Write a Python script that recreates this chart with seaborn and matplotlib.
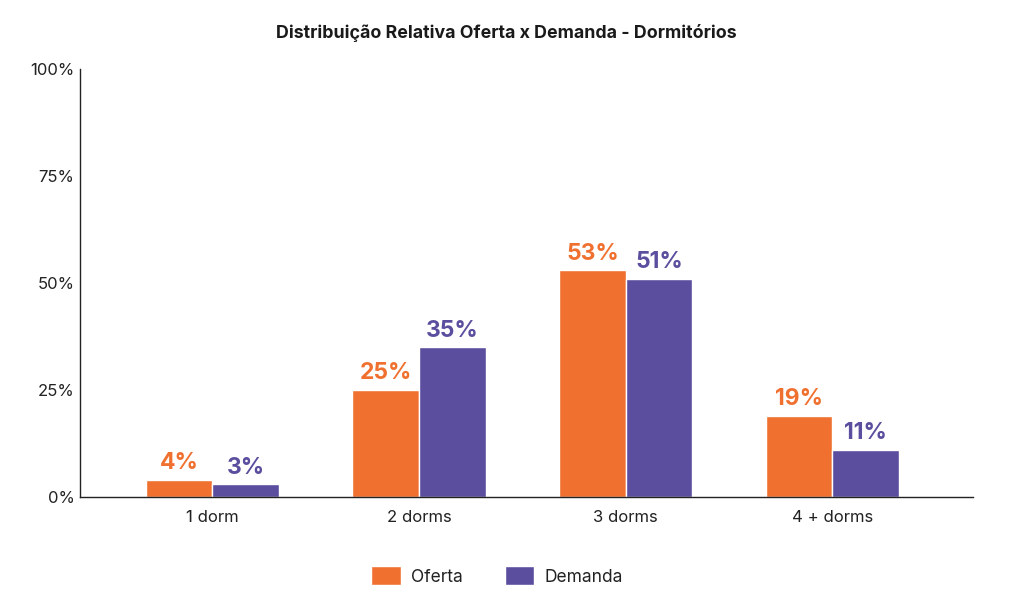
import matplotlib
matplotlib.use("Agg")
import matplotlib.pyplot as plt
import seaborn as sns
import pandas as pd

categories = ["1 dorm", "2 dorms", "3 dorms", "4 + dorms"]
oferta = [4, 25, 53, 19]
demanda = [3, 35, 51, 11]
series_names = ["Oferta", "Demanda"]
colors = ["#F07030", "#5B4E9E"]
yticks = [0, 25, 50, 75, 100]
ytick_labels = ["0%", "25%", "50%", "75%", "100%"]
title = "Distribuição Relativa Oferta x Demanda - Dormitórios"

df = pd.DataFrame({
    "cat": categories * 2,
    "serie": [series_names[0]] * 4 + [series_names[1]] * 4,
    "val": oferta + demanda,
})

sns.set_theme(style="white")
plt.rcParams["font.family"] = ["Inter", "DejaVu Sans"]

fig = plt.figure(figsize=(10.26, 6.08), dpi=100)
ax = fig.add_axes([80 / 1026, 1 - 497 / 608, (973 - 80) / 1026, (497 - 69) / 608])

sns.barplot(data=df, x="cat", y="val", hue="serie", palette=colors, saturation=1,
            width=0.645, edgecolor="white", linewidth=1, ax=ax, legend=True)

for cont, col in zip(ax.containers, colors):
    ax.bar_label(cont, labels=[f"{v:.0f}%" for v in cont.datavalues], padding=4,
                 color=col, fontsize=16.5, fontweight="bold")

ax.set_ylim(0, 100)
ax.set_xlim(-0.64, 3.68)
ax.set_yticks(yticks)
ax.set_yticklabels(ytick_labels, fontsize=12, color="#222222")
ax.tick_params(axis="x", labelsize=12, colors="#222222", length=0, pad=9)
ax.tick_params(axis="y", length=0, pad=4)
ax.set_xlabel("")
ax.set_ylabel("")
for s in ["top", "right"]:
    ax.spines[s].set_visible(False)
for s in ["left", "bottom"]:
    ax.spines[s].set_color("#222222")
    ax.spines[s].set_linewidth(1)

fig.suptitle(title, x=506 / 1026, y=1 - 33 / 608, va="center",
             fontsize=12.8, fontweight="bold", color="#1a1a1a")

leg = ax.legend(loc="center", bbox_to_anchor=(497 / 1026, 1 - 576 / 608),
                bbox_transform=fig.transFigure, ncol=2, frameon=False,
                fontsize=12.5, handlelength=1.7, handleheight=1.25,
                columnspacing=2.4, handletextpad=0.6)
for t in leg.get_texts():
    t.set_color("#222222")

fig.savefig("out.png", dpi=100)
